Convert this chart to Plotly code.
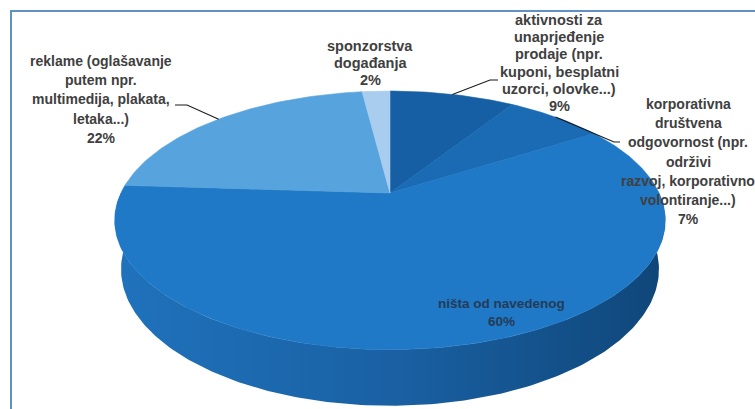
import numpy as np
import plotly.graph_objects as go

# ---- data (clockwise from 12 o'clock) ----
categories = [
    "aktivnosti za unaprjeđenje prodaje (npr. kuponi, besplatni uzorci, olovke...)",
    "korporativna društvena odgovornost (npr. održivi razvoj, korporativno volontiranje...)",
    "ništa od navedenog",
    "reklame (oglašavanje putem npr. multimedija, plakata, letaka...)",
    "sponzorstva događanja",
]
shares = [9, 7, 60, 22, 2]

# ---- styling ----
top_colors = ["#165fa4", "#1b6bb4", "#1f79c6", "#57a3de", "#a8cdee"]
side_scale = [[0.0, "#1f72bc"], [0.5, "#1a61a4"], [1.0, "#0f4679"]]
label_color = "#404040"
W, H = 755, 409
CX, CY = 390, 193            # screen position of the pie centre (px)

# perspective camera for the tilted pie
S = 0.459                    # sin(elevation)
C = np.sqrt(1 - S * S)
D = 4.20                     # camera distance (pie radii)
F = 1130.0                   # focal length (px)
THICK = 0.205                # pie thickness (pie radii)


def project(theta_deg, z=0.0, r=1.0):
    th = np.radians(np.asarray(theta_deg, dtype=float))
    X = r * np.sin(th)
    Y = r * np.cos(th)
    vf = Y * C - z * S + D
    return F * X / vf, F * (Y * S + z * C) / vf


def px(x, y):
    """pixel position -> axis coordinates"""
    return x - CX, CY - y


fig = go.Figure()

# ---- side wall (front half) with a left-to-right shading ----
rim = np.linspace(90, 270, 181)
tx, ty = project(rim, 0.0)
bx, by = project(rim[::-1], -THICK)
fig.add_trace(go.Scatter(
    x=np.concatenate([tx, bx, tx[:1]]), y=np.concatenate([ty, by, ty[:1]]),
    mode="lines", fill="toself",
    fillgradient=dict(type="horizontal", colorscale=side_scale),
    line=dict(width=0), hoverinfo="skip", showlegend=False))

# ---- top face slices ----
total = sum(shares)
start = 0.0
mids = []
for name, v, col in zip(categories, shares, top_colors):
    span = 360.0 * v / total
    arc = np.linspace(start, start + span, max(3, int(span) + 2))
    ax_, ay_ = project(arc, 0.0)
    fig.add_trace(go.Scatter(
        x=np.concatenate([[0], ax_, [0]]), y=np.concatenate([[0], ay_, [0]]),
        mode="lines", fill="toself", fillcolor=col,
        line=dict(color=col, width=0.6), name=name,
        hoverinfo="skip", showlegend=False))
    mids.append(start + span / 2)
    start += span

# ---- data labels ----
label_lines = [
    ["aktivnosti za", "unaprjeđenje", "prodaje (npr.", "kuponi, besplatni",
     "uzorci, olovke...)"],
    ["korporativna", "društvena", "odgovornost (npr.", "održivi",
     "razvoj, korporativno", "volontiranje...)"],
    ["ništa od navedenog"],
    ["reklame (oglašavanje", "putem npr.", "multimedija, plakata,", "letaka...)"],
    ["sponzorstva", "događanja"],
]
# centre x, first line y, line step, font size (px)
label_place = [
    (559, 20, 17.2, 14.5),
    (688, 104, 19.2, 14),
    (501, 303, 18, 13.5),
    (101, 61, 19.2, 14),
    (370, 46, 17, 14.5),
]
label_ink = [label_color, label_color, "#243b57", label_color, label_color]

annotations = []
for lines, v, (lx, ly, step, size), ink in zip(label_lines, shares, label_place, label_ink):
    for i, txt in enumerate(lines + [f"{v}%"]):
        x, y = px(lx, ly + i * step)
        annotations.append(dict(
            x=x, y=y, xref="x", yref="y", text=txt, showarrow=False,
            xanchor="center", yanchor="middle",
            font=dict(family="Liberation Sans, Arial, sans-serif", size=size,
                      color=ink, weight="bold")))

# ---- leader lines: from the label to the rim at the slice's mid angle ----
leader_from = {
    0: [(498, 80), (490, 80)],
    1: [(620, 142), (614, 142)],
    3: [(175, 105), (187, 105)],
}
for idx, pts in leader_from.items():
    rx, ry = project(mids[idx], 0.0)
    xs = [px(*p)[0] for p in pts] + [float(rx)]
    ys = [px(*p)[1] for p in pts] + [float(ry)]
    fig.add_trace(go.Scatter(x=xs, y=ys, mode="lines",
                             line=dict(color="#1a1a1a", width=1.1),
                             hoverinfo="skip", showlegend=False))

# ---- chart frame ----
shapes = [dict(type="rect", xref="paper", yref="paper",
               x0=11 / W, x1=1.02, y0=-0.02, y1=1 - 11 / H,
               line=dict(color="#5f91c2", width=2), fillcolor="rgba(0,0,0,0)",
               layer="below")]

fig.update_layout(
    width=W, height=H, margin=dict(l=0, r=0, t=0, b=0),
    paper_bgcolor="white", plot_bgcolor="white",
    xaxis=dict(range=[-CX, W - CX], visible=False, fixedrange=True),
    yaxis=dict(range=[-(H - CY), CY], visible=False, fixedrange=True),
    annotations=annotations, shapes=shapes, showlegend=False,
)

fig.write_html("out.html")
